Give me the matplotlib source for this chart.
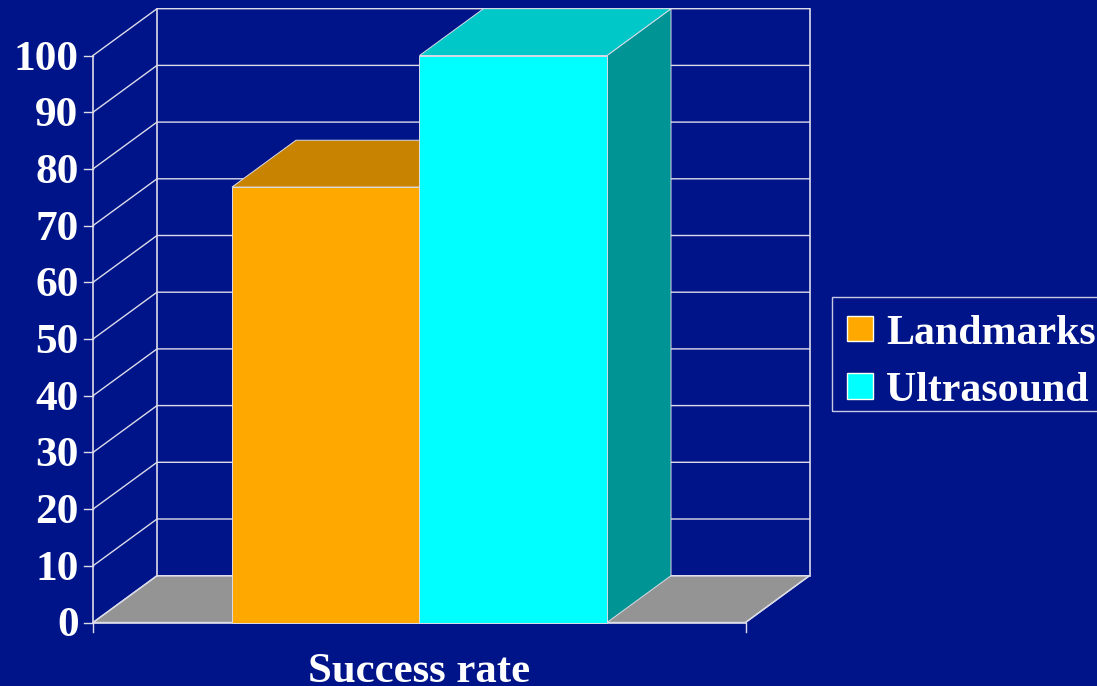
import matplotlib
matplotlib.use("Agg")
import matplotlib.pyplot as plt
from matplotlib.patches import Polygon, Rectangle

categories = ["Success rate"]
series_names = ["Landmarks", "Ultrasound"]
series_values = [76.8, 100]
y_ticks = list(range(0, 101, 10))
front_colors = ["#FFA800", "#00FFFF"]
top_colors = ["#C88400", "#00C8C8"]
side_colors = ["#9A6600", "#009494"]
BG = "#001489"
FLOOR = "#949494"
LINE = "#DCDCE8"

W, H = 1097, 686
fig = plt.figure(figsize=(W/100, H/100), dpi=100, facecolor=BG)
plt.rcParams['font.family'] = ['Liberation Serif']
L, R, B, T = 93, 745.5, 622.5, 55.5
ax = fig.add_axes([L/W, 1-B/H, (R-L)/W, (B-T)/H])
ax.set_xlim(0, 1)
ax.set_ylim(0, 100)
ax.patch.set_visible(False)
for s in ax.spines.values():
    s.set_visible(False)
ax.tick_params(left=False, bottom=False, labelleft=False, labelbottom=False)

dx = 64/(R-L)
dy = 46.8/(B-T)*100
LW = 1.0
TXT = 31.2

def P(pts, **k):
    p = Polygon(pts, closed=True, clip_on=False, **k)
    ax.add_patch(p)
    return p

P([(0, 0), (1, 0), (1+dx, dy), (dx, dy)], facecolor=FLOOR, edgecolor=LINE, lw=LW, zorder=1)
for v in y_ticks:
    ax.plot([0, dx, 1+dx], [v, v+dy, v+dy], color=LINE, lw=LW, clip_on=False, zorder=1.5)
for xs, ys in (([0, 0], [0, 100]), ([dx, dx], [dy, 100+dy]), ([1+dx, 1+dx], [dy, 100+dy])):
    ax.plot(xs, ys, color=LINE, lw=LW+0.2, clip_on=False, zorder=1.5)
ax.plot([0, 1], [0, 0], color=LINE, lw=LW+0.2, clip_on=False, zorder=2)
ax.plot([1, 1+dx], [0, dy], color=LINE, lw=LW, clip_on=False, zorder=2)
for v in y_ticks:
    ax.plot([-9/(R-L), 0], [v, v], color=LINE, lw=LW, clip_on=False, zorder=2)
    ax.annotate(str(v), (0, v), xytext=(-14.5/(100/72), -4.0/(100/72)), textcoords="offset points",
                ha="right", va="center", color="white", fontsize=TXT, fontweight="bold",
                annotation_clip=False)
for x in (0, 1):
    ax.plot([x, x], [0, -9.5/(B-T)*100], color=LINE, lw=LW, clip_on=False, zorder=2)

bar_w = 187.5/(R-L)
x0 = (232-L)/(R-L)
for i, (val, f, t, s) in enumerate(zip(series_values, front_colors, top_colors, side_colors)):
    x = x0 + i*bar_w
    z = 3 + i
    P([(x+bar_w, 0), (x+bar_w+dx, dy), (x+bar_w+dx, val+dy), (x+bar_w, val)],
      facecolor=s, edgecolor=LINE, lw=0.7, zorder=z)
    P([(x, val), (x+bar_w, val), (x+bar_w+dx, val+dy), (x+dx, val+dy)],
      facecolor=t, edgecolor=LINE, lw=0.7, zorder=z)
    ax.add_patch(Rectangle((x, 0), bar_w, val, facecolor=f, edgecolor=LINE, lw=0.7,
                           zorder=z+0.5, clip_on=False))

ax.text(0.5, -(682.5-B)/(B-T)*100, categories[0], ha="center", va="baseline", color="white",
        fontsize=30.8, fontweight="bold", clip_on=False)

ft = fig.transFigure
def fx(px): return px/W
def fy(py): return 1-py/H
fig.add_artist(Rectangle((fx(832), fy(411)), (1097-832+5)/W, (411-297)/H, transform=ft,
                         facecolor="none", edgecolor="#C8C8E0", lw=LW))
for name, c, yc in zip(series_names, front_colors, (328.5, 386)):
    fig.add_artist(Rectangle((fx(846.5), fy(yc+13)), 26/W, 26/H, transform=ft,
                             facecolor=c, edgecolor="#FFFFF0", lw=1.0))
    fig.text(fx(886), fy(yc+5), name, color="white", fontsize=30.2, fontweight="bold",
             ha="left", va="center")

fig.savefig("out.png", dpi=100, facecolor=BG)
